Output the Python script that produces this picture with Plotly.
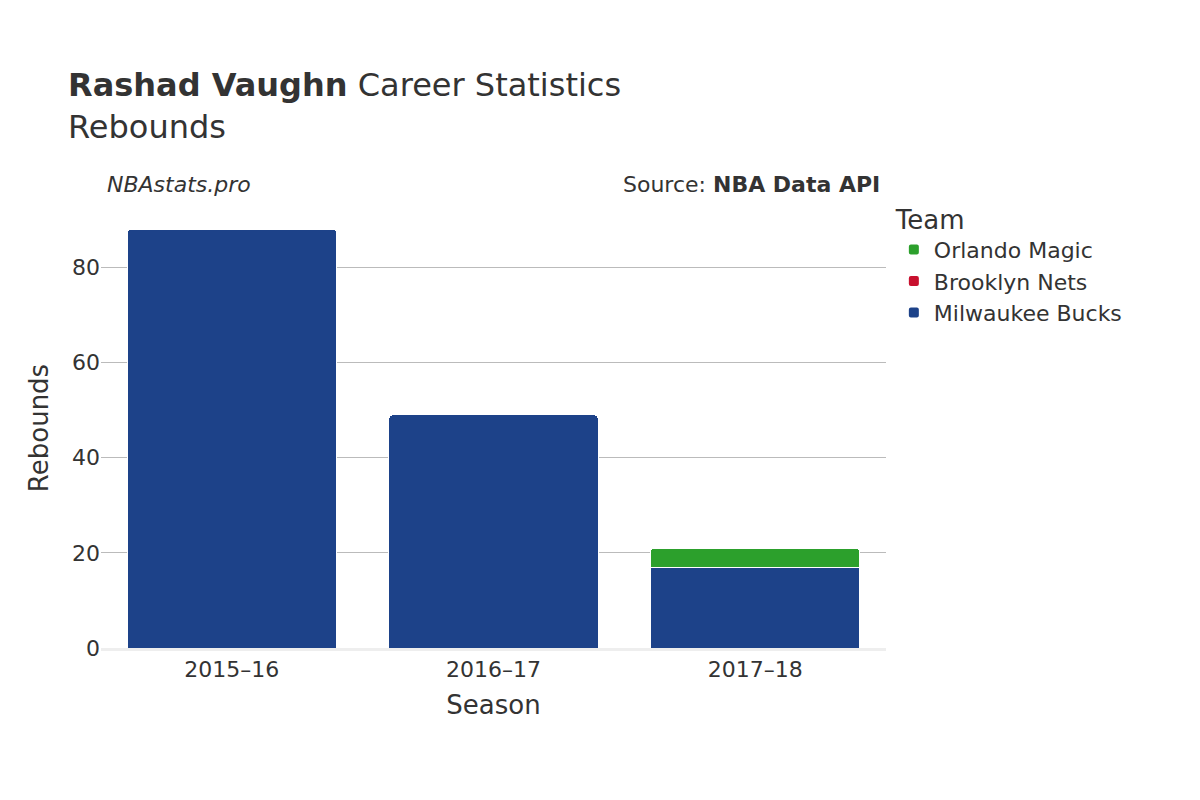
import plotly.graph_objects as go

seasons = ["2015–16", "2016–17", "2017–18"]
teams = ["Milwaukee Bucks", "Brooklyn Nets", "Orlando Magic"]
colors = ["#1d4289", "#c8102e", "#2ca02c"]
values = {
    "Milwaukee Bucks": [88, 49, 17],
    "Brooklyn Nets": [0, 0, 0],
    "Orlando Magic": [0, 0, 4],
}

fig = go.Figure()
for t, c in zip(teams, colors):
    fig.add_trace(go.Bar(x=seasons, y=values[t], name=t, marker=dict(color=c, line=dict(color="white", width=1))))

fig.update_layout(
    width=1200, height=800,
    barmode="stack", bargap=0.2, barcornerradius=4,
    font=dict(family="DejaVu Sans", color="#333333", size=20),
    plot_bgcolor="white", paper_bgcolor="white",
    margin=dict(l=93, r=322, t=200, b=160),
    title=dict(text="<b>Rashad Vaughn</b> Career Statistics<br>Rebounds", x=0.05, xanchor="left", y=0.89, yanchor="top", font=dict(size=32, color="#333333")),
    xaxis=dict(title=dict(text="Season", font=dict(size=26)), tickfont=dict(size=22), showline=True, linecolor="#eeeeee", linewidth=3),
    yaxis=dict(title=dict(text="Rebounds", font=dict(size=26)), tickfont=dict(size=22), range=[0, 92.5], gridcolor="#bbbbbb", gridwidth=1, zeroline=False, dtick=20),
    legend=dict(title=dict(text="Team", font=dict(size=26)), font=dict(size=22), x=1.01, y=1.03, yanchor="top", itemsizing="constant"),
    annotations=[
        dict(text="<i>NBAstats.pro</i>", xref="paper", yref="paper", x=0.005, y=1.02, xanchor="left", yanchor="bottom", showarrow=False, font=dict(size=22)),
        dict(text="Source: <b>NBA Data API</b>", xref="paper", yref="paper", x=0.995, y=1.02, xanchor="right", yanchor="bottom", showarrow=False, font=dict(size=22)),
    ],
)
fig.write_html("out.html")
